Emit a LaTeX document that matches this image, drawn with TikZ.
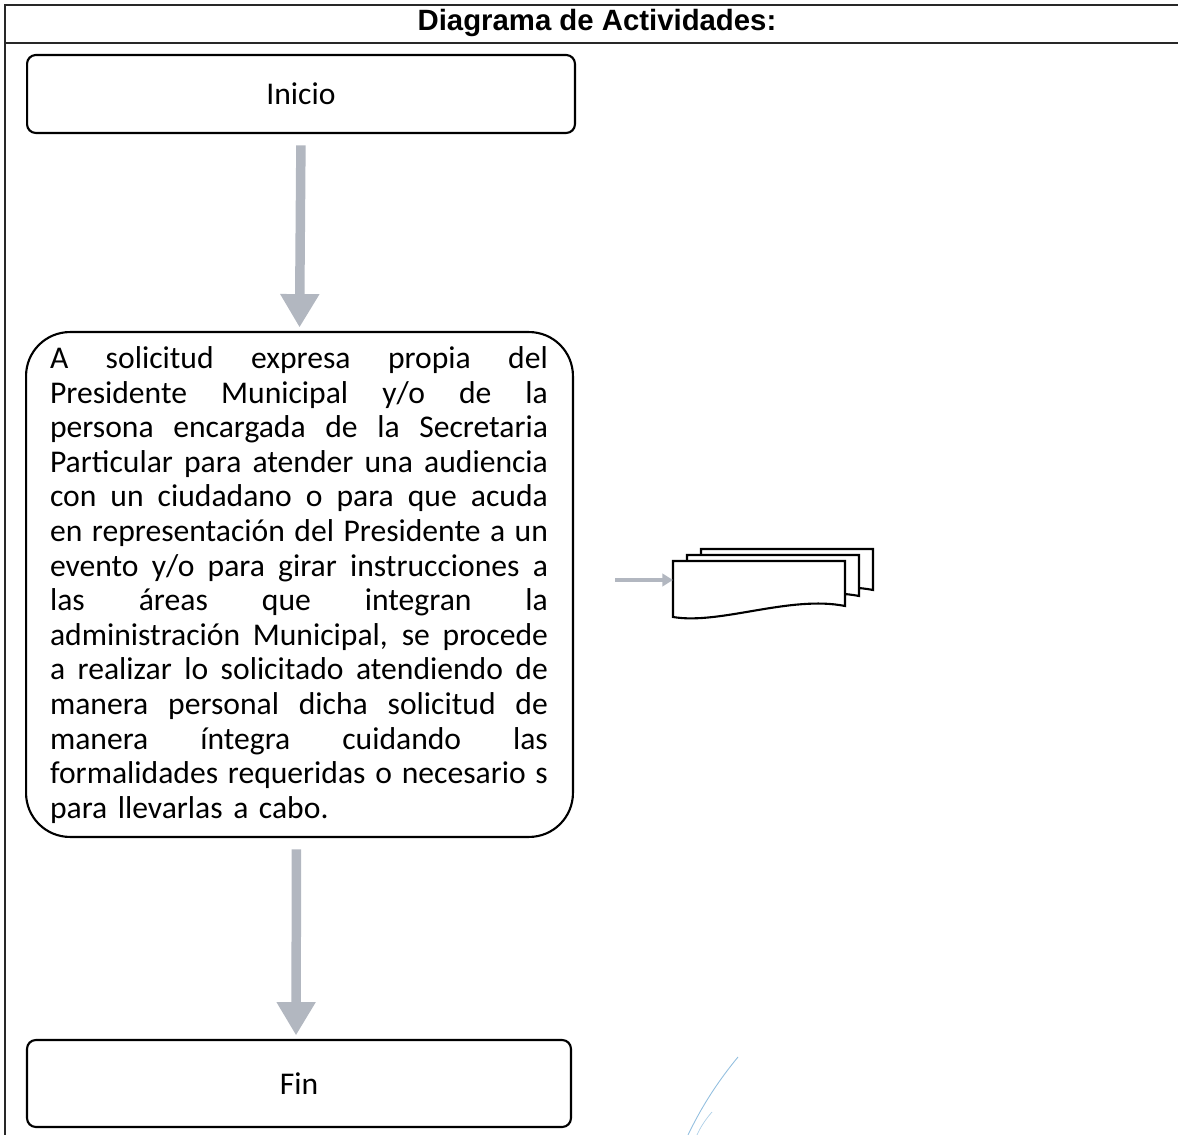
\documentclass[tikz,border=0pt]{standalone}
\usepackage{fontspec}
\setmainfont{Carlito}
\newfontfamily\headfont{Liberation Sans}
\usetikzlibrary{arrows.meta}

\definecolor{frameink}{RGB}{40,40,40}
\definecolor{flowgray}{RGB}{178,183,192}
\definecolor{penblue}{RGB}{120,175,215}

\newlength{\actwidth}
\setlength{\actwidth}{9.96cm}
% one fully justified line: interword spaces stretch to fill the width
\newcommand{\jline}[1]{\leavevmode\hbox to \actwidth{\spaceskip=\fontdimen2\font plus 1fil\relax #1}}

\tikzset{
  boxline/.style={draw=black, line width=1.2pt},
  bodyfont/.style={font=\fontsize{18pt}{19.7pt}\selectfont},
  termbox/.style={boxline, bodyfont, rounded corners=5pt, minimum width=10.96cm,
    minimum height=1.56cm, inner sep=0pt},
  actbox/.style={boxline, rounded corners=25pt, minimum width=10.94cm, minimum height=10.1cm,
    inner sep=0pt},
  flowarrow/.style={draw=flowgray, line width=5.4pt,
    -{Triangle[width=21pt,length=19pt]}, shorten <=6.5pt, shorten >=2pt},
  smallarrow/.style={draw=flowgray, line width=2.2pt,
    -{Triangle[width=7pt,length=6pt]}},
  docsheet/.style={boxline, fill=white},
}

\begin{document}
\begin{tikzpicture}[x=0.02cm, y=-0.02cm]
  \useasboundingbox (0,0) rectangle (1178,1135);

  % table frame and header row
  \draw[frameink, line width=0.9pt] (5,1135) -- (5,5) -- (1178,5);
  \draw[frameink, line width=0.9pt] (5,43) -- (1178,43);
  \node[font=\headfont\bfseries\fontsize{16.7pt}{19pt}\selectfont] (title) at (597,23)
    {Diagrama de Actividades:};

  % start, activity and end
  \node[termbox] (inicio) at (301,94) {Inicio};
  \node[actbox] (act) at (299.5,584.5) {};
  \node[text width=\actwidth, align=left, inner sep=0pt, bodyfont] (acttext) at (299,585) {%
    \jline{A solicitud expresa propia del}\\
    \jline{Presidente Municipal y/o de la}\\
    \jline{persona encargada de la Secretaria}\\
    \jline{Particular para atender una audiencia}\\
    \jline{con un ciudadano o para que acuda}\\
    \jline{en representación del Presidente a un}\\
    \jline{evento y/o para girar instrucciones a}\\
    \jline{las áreas que integran la}\\
    \jline{administración Municipal, se procede}\\
    \jline{a realizar lo solicitado atendiendo de}\\
    \jline{manera personal dicha solicitud de}\\
    \jline{manera íntegra cuidando las}\\
    \jline{formalidades requeridas o necesario s}\\
    para llevarlas a cabo.};
  \node[termbox, minimum width=10.88cm, minimum height=1.74cm] (fin) at (299,1083.5) {Fin};

  \draw[flowarrow] (inicio.south) -- (act.north);
  \draw[flowarrow] ([xshift=-0.06cm]act.south) -- ([xshift=-0.06cm]fin.north);

  % stacked documents
  \draw[docsheet] (701,549) -- (873,549) -- (873,590)
    .. controls (818,579) and (748,609) .. (701,601) -- cycle;
  \draw[docsheet] (687,555) -- (859,555) -- (859,596)
    .. controls (804,585) and (734,615) .. (687,607) -- cycle;
  \draw[docsheet] (673,561) -- (845,561) -- (845,606)
    .. controls (790,595) and (720,625) .. (673,617) -- cycle;
  \coordinate (docs) at (673,580);
  \coordinate (docsin) at (615,580);
  \draw[smallarrow] (docsin) -- (docs);

  % pen stroke across the lower margin
  \draw[penblue, line width=0.5pt, opacity=0.8] (738,1057) .. controls (715,1085) and (700,1110) .. (688,1135);
  \draw[penblue, line width=0.4pt, opacity=0.6] (712,1112) .. controls (705,1120) and (700,1128) .. (697,1135);
\end{tikzpicture}
\end{document}
